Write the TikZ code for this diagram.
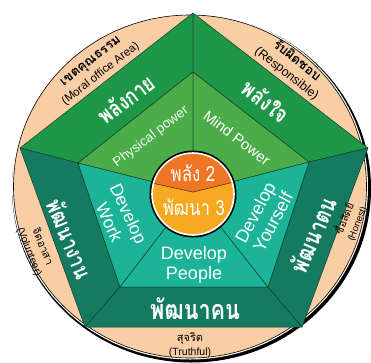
\documentclass[tikz,border=0pt]{standalone}
\usepackage{fontspec}
\setmainfont{Liberation Sans}
\newfontfamily\thai[Script=Thai,FakeStretch=0.8]{Loma}
\newfontfamily\thain[Script=Thai]{Loma}
\definecolor{beige}{RGB}{250,206,164}
\definecolor{dgreen}{RGB}{30,152,72}
\definecolor{lgreen}{RGB}{76,172,74}
\definecolor{dteal}{RGB}{20,122,96}
\definecolor{lteal}{RGB}{28,180,152}
\definecolor{corange}{RGB}{238,118,36}
\definecolor{cyellow}{RGB}{246,168,32}
\definecolor{edgec}{RGB}{20,60,40}
\begin{document}
\begin{tikzpicture}[x=1pt,y=-1pt,
  region/.style={draw=edgec,line width=0.5pt,line join=round},
  bandtxt/.style={text=white,inner sep=0pt},
  innertxt/.style={text=white,inner sep=0pt,align=center},
  ringtxt/.style={text=black,inner sep=0pt,align=center}]
\useasboundingbox (0,0) rectangle (371,362);
% outer disc
\fill[black] (191.5,188.5) ellipse [x radius=179.5, y radius=174];
\fill[white] (190,186.5) ellipse [x radius=178, y radius=173];
\filldraw[fill=beige,draw=black,line width=0.6pt] (190,186.5) ellipse [x radius=176.5, y radius=171.5];
% coordinates
\coordinate (oT) at (193,13);
\coordinate (oL) at (20,148);
\coordinate (oR) at (368,148);
\coordinate (oBL) at (85,327);
\coordinate (oBR) at (302,327);
\coordinate (iT) at (193,72);
\coordinate (iL) at (78,163);
\coordinate (iR) at (309,162);
\coordinate (iBL) at (120,287);
\coordinate (iBR) at (268,287);
\coordinate (C) at (193,192);
% bands
\filldraw[region,fill=dgreen] (oT) -- (oL) -- (iL) -- (iT) -- cycle;
\filldraw[region,fill=dgreen] (oT) -- (oR) -- (iR) -- (iT) -- cycle;
\filldraw[region,fill=dteal] (oL) -- (oBL) -- (iBL) -- (iL) -- cycle;
\filldraw[region,fill=dteal] (oBL) -- (oBR) -- (iBR) -- (iBL) -- cycle;
\filldraw[region,fill=dteal] (oR) -- (oBR) -- (iBR) -- (iR) -- cycle;
% inner sectors
\filldraw[region,fill=lgreen] (iT) -- (iL) -- (C) -- cycle;
\filldraw[region,fill=lgreen] (iT) -- (iR) -- (C) -- cycle;
\filldraw[region,fill=lteal] (iL) -- (iBL) -- (C) -- cycle;
\filldraw[region,fill=lteal] (iBL) -- (iBR) -- (C) -- cycle;
\filldraw[region,fill=lteal] (iBR) -- (iR) -- (C) -- cycle;
% centre circle
\coordinate (cc) at (193,194);
\fill[black] (cc) circle [radius=43.5];
\fill[white] (cc) circle [radius=41.8];
\begin{scope}
  \clip (cc) circle [radius=40];
  \fill[cyellow] (140,150) rectangle (246,246);
  \fill[corange] (140,150) -- (140,184) -- (152,183) -- (193,192) -- (234,182) -- (246,184) -- (246,150) -- cycle;
  \draw[draw=black!60!corange,line width=0.6pt] (140,184) -- (152,183) -- (193,192) -- (234,182) -- (246,184);
\end{scope}
\node[bandtxt,font=\thai\fontsize{21}{21}\selectfont] (pw2) at (193,173) {พลัง 2};
\node[bandtxt,font=\thai\fontsize{21}{21}\selectfont] (dv3) at (194,207) {พัฒนา 3};
% band texts
\node[bandtxt,rotate=37.5,font=\thai\bfseries\fontsize{23}{23}\selectfont] (tpk) at (126,99) {พลังกาย};
\node[bandtxt,rotate=-39,font=\thai\bfseries\fontsize{23}{23}\selectfont] (tpj) at (266,101) {พลังใจ};
\node[bandtxt,rotate=-68,font=\thai\bfseries\fontsize{23}{23}\selectfont] (tng) at (70,239) {พัฒนางาน};
\node[bandtxt,rotate=66,font=\thai\bfseries\fontsize{24}{24}\selectfont] (tnt) at (313,235) {พัฒนาตน};
\node[bandtxt,font=\thai\bfseries\fontsize{27}{27}\selectfont] (tnk) at (195,309) {พัฒนาคน};
% inner texts
\node[innertxt,rotate=37.5,font=\fontsize{13.5}{14}\selectfont,text=green!8!white] (tphy) at (151,137) {Physical power};
\node[innertxt,rotate=-37,font=\fontsize{15}{16}\selectfont] (tmind) at (237,138) {Mind Power};
\node[innertxt,rotate=-65,font=\fontsize{17.5}{21}\selectfont] (twork) at (119,218) {Develop\\Work};
\node[innertxt,font=\fontsize{18}{20}\selectfont] (tpeople) at (194,265) {Develop\\People};
\node[innertxt,rotate=62,font=\fontsize{18}{20}\selectfont] (tyour) at (264,217) {Develop\\Yourself};
% ring texts
\node[ringtxt,rotate=38,font=\fontsize{11.5}{16}\selectfont] (rmoral) at (96,68) {{\thain\bfseries\fontsize{13}{14}\selectfont เขตคุณธรรม}\\(Moral office Area)};
\node[ringtxt,rotate=-38,font=\fontsize{12.5}{16}\selectfont] (rresp) at (292,67) {{\thain\bfseries\fontsize{13}{14}\selectfont รับผิดชอบ}\\(Responsible)};
\node[ringtxt,rotate=-68,font=\fontsize{10.5}{14}\selectfont] (rvol) at (36,249) {{\thain\fontsize{11}{12}\selectfont จิตอาสา}\\(Volunteer)};
\node[ringtxt,rotate=68,font=\fontsize{9.5}{13}\selectfont] (rhon) at (350,221) {{\thain\fontsize{10.5}{11}\selectfont ซื่อสัตย์}\\(Honest)};
\node[ringtxt,font=\fontsize{10.5}{14}\selectfont] (rtru) at (190,345) {{\thain\fontsize{11}{11}\selectfont สุจริต}\\(Truthful)};
\end{tikzpicture}
\end{document}
